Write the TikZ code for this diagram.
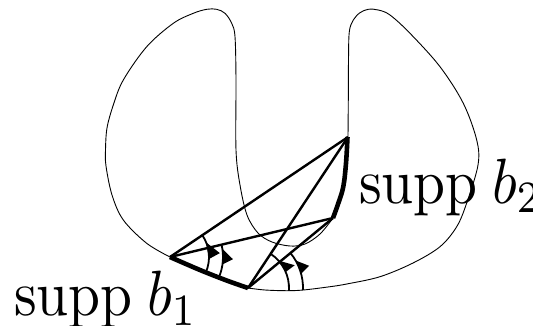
\documentclass[tikz,border=0pt]{standalone}
\begin{document}
\begin{tikzpicture}[x=1pt,y=1pt,
  outline/.style={line width=0.9pt},
  suppline/.style={line width=4.6pt},
  chord/.style={line width=2.4pt},
  anglearc/.style={line width=1.8pt},
  lbl/.style={font=\fontsize{10}{12}\selectfont, xscale=5.75, yscale=6.4, transform shape, inner sep=0pt, anchor=base west}]
\useasboundingbox (0,0) rectangle (533,-325);
\coordinate (A1) at (170,-257);
\coordinate (A2) at (248,-288);
\coordinate (B1) at (348,-137);
\coordinate (B2) at (333,-218);
% thin outline: right lobe
\draw[outline] plot[smooth, tension=0.55] coordinates {(348,-137) (348.3,-100) (348.5,-60) (349.3,-31.7) (353.3,-20) (360,-12.7) (368.3,-9.3) (378.3,-10) (390,-15) (410,-33.3) (440,-66.7) (463.3,-103.3) (476.7,-140) (478,-165) (466.7,-203) (456.7,-226.7) (440,-246.7) (413,-263) (380,-276.7) (346.7,-284) (330,-286.7) (303.3,-290) (286.7,-290.7) (265,-290) (248,-288)};
% thin outline: left lobe and inner edge
\draw[outline] plot[smooth, tension=0.55] coordinates {(170,-257) (146.7,-243.3) (123.3,-220) (112,-195) (106,-166) (105.5,-150) (107,-128) (113.3,-105) (123.3,-80) (146.7,-46.7) (173.3,-23.3) (193.3,-13.3) (206.7,-9.3) (216.7,-9.3) (225,-13.3) (231.7,-23.3) (235,-36.7) (236,-80) (236,-150) (240,-185) (247,-215) (258,-233) (272,-242) (290,-246) (305,-244) (320,-234) (333,-218)};
% supports
\draw[suppline] plot[smooth, tension=0.6] coordinates {(248,-288) (226.7,-280.5) (200,-270) (170,-257)};
\draw[suppline] plot[smooth, tension=0.6] coordinates {(333,-218) (338.3,-203.3) (343.3,-186.7) (346,-163.3) (347.5,-137)};
% chords
\draw[chord] (A1) -- (B1);
\draw[chord] (A1) -- (B2);
\draw[chord] (A2) -- (B1);
\draw[chord] (A2) -- (B2);
% angle arcs
\draw[anglearc] ([shift={(A1)}]33.8:39) arc[start angle=33.8, end angle=-23, radius=39];
\draw[anglearc] ([shift={(A1)}]13.8:53) arc[start angle=13.8, end angle=-23, radius=53];
\draw[anglearc] ([shift={(A2)}]56.2:41) arc[start angle=56.2, end angle=-3, radius=41];
\draw[anglearc] ([shift={(A2)}]39.9:55) arc[start angle=39.9, end angle=-2, radius=55];
% arrow heads
\fill ([shift={(A1)}]22:39) -- ([shift={(A1)}]-3:39) -- ([shift={(A1)}]4.5:50) -- cycle;
\fill ([shift={(A1)}]9:53) -- ([shift={(A1)}]-8:53) -- ([shift={(A1)}]-2:63) -- cycle;
\fill ([shift={(A2)}]42:41) -- ([shift={(A2)}]23:41) -- ([shift={(A2)}]26:52) -- cycle;
\fill ([shift={(A2)}]30:55) -- ([shift={(A2)}]15:55) -- ([shift={(A2)}]20:65) -- cycle;
% labels
\node[lbl] (L2) at (358,-203) {$\mathrm{supp}\mskip4.5mu b_2$};
\node[lbl] (L1) at (13,-315.5) {$\mathrm{supp}\mskip4.5mu b_1$};
\end{tikzpicture}
\end{document}
